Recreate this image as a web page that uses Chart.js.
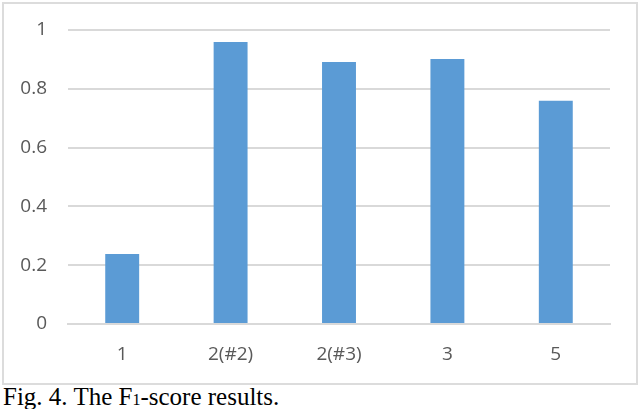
<!DOCTYPE html>
<html>
<head>
<meta charset="utf-8">
<script src="https://cdn.jsdelivr.net/npm/chart.js@4/dist/chart.umd.min.js"></script>
<style>
    body { margin: 0; background: #fff; width: 640px; height: 409px; overflow: hidden; position: relative; }
    #frame { position: absolute; left: 2px; top: 2px; width: 632px; height: 379px; border: 2px solid #dcdcdc; }
    #caption { position: absolute; left: 3px; top: 383px; font-family: "Liberation Serif", "Times New Roman", serif; font-size: 25px; line-height: 28px; color: #000; white-space: nowrap; }
    #caption sub { font-size: 16px; vertical-align: 0; }
</style>
</head>
<body>
<div id="frame"><canvas id="chart" width="632" height="379"></canvas></div>
<div id="caption">Fig. 4. The F<sub>1</sub>-score results.</div>
<script>
// Données
const categories = ['1', '2(#2)', '2(#3)', '3', '5'];
const f1Scores = [0.238, 0.959, 0.891, 0.901, 0.759];
const yTicks = [0, 0.2, 0.4, 0.6, 0.8, 1];

const ctx = document.getElementById('chart');
new Chart(ctx, {
    type: 'bar',
    data: {
        labels: categories,
        datasets: [{
            data: f1Scores,
            backgroundColor: '#5b9bd5',
            borderWidth: 0,
            categoryPercentage: 1,
            barPercentage: 0.313
        }]
    },
    options: {
        responsive: false,
        animation: false,
        layout: { padding: { top: 26, right: 26, left: 0, bottom: 0 } },
        plugins: { legend: { display: false }, tooltip: { enabled: false } },
        scales: {
            x: {
                grid: { display: false, drawTicks: false },
                border: { display: true, color: '#d9d9d9', width: 2 },
                ticks: {
                    color: '#595959',
                    font: { family: 'Open Sans', size: 19 },
                    padding: 19,
                    maxRotation: 0
                },
                afterFit: (scale) => { scale.height = 59; scale.paddingLeft = 0; scale.paddingRight = 0; }
            },
            y: {
                min: 0,
                max: 1,
                afterBuildTicks: (scale) => { scale.ticks = yTicks.map(v => ({ value: v })); },
                grid: { color: '#d9d9d9', lineWidth: 2, drawTicks: false },
                border: { display: false },
                ticks: {
                    color: '#595959',
                    font: { family: 'Open Sans', size: 19 },
                    padding: 21,
                    callback: (v) => String(Math.round(v * 10) / 10)
                },
                afterFit: (scale) => { scale.width = 64; scale.paddingTop = 0; scale.paddingBottom = 0; }
            }
        }
    }
});
</script>
</body>
</html>
